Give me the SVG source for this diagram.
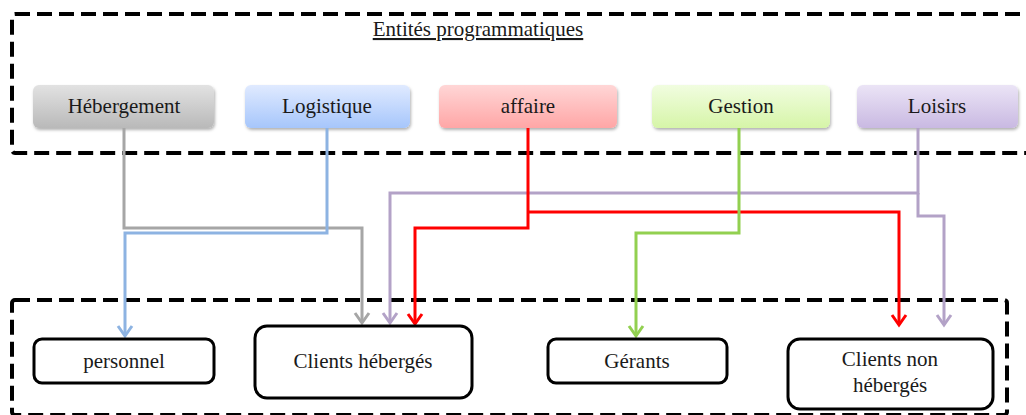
<svg xmlns="http://www.w3.org/2000/svg" width="1026" height="415" viewBox="0 0 1026 415">
<style>
.frame{fill:none;stroke:#000;stroke-width:4;stroke-dasharray:15 7}
.src{stroke:none}
.dst{fill:#fff;stroke:#000;stroke-width:3}
.t{font-family:"Liberation Serif","Times New Roman",serif;font-size:21px;fill:#1a1a1a;text-anchor:middle}
.c{fill:none;stroke-width:3;stroke-linejoin:miter}
</style>
<defs>
<linearGradient id="gGray" x1="0" y1="0" x2="0" y2="1"><stop offset="0" stop-color="#e2e2e2"/><stop offset="1" stop-color="#b9b9b9"/></linearGradient>
<linearGradient id="gBlue" x1="0" y1="0" x2="0" y2="1"><stop offset="0" stop-color="#e0eaff"/><stop offset="1" stop-color="#a6c6fb"/></linearGradient>
<linearGradient id="gRed" x1="0" y1="0" x2="0" y2="1"><stop offset="0" stop-color="#ffd6d6"/><stop offset="1" stop-color="#ffa6a6"/></linearGradient>
<linearGradient id="gGreen" x1="0" y1="0" x2="0" y2="1"><stop offset="0" stop-color="#f1fde0"/><stop offset="1" stop-color="#d6f5a8"/></linearGradient>
<linearGradient id="gPurple" x1="0" y1="0" x2="0" y2="1"><stop offset="0" stop-color="#ebe4f6"/><stop offset="1" stop-color="#c9b9e2"/></linearGradient>
<filter id="sh" x="-10%" y="-20%" width="120%" height="150%"><feDropShadow dx="1" dy="2" stdDeviation="1.5" flood-color="#000" flood-opacity="0.3"/></filter>
</defs>

<g id="frames">
<rect class="frame" x="12" y="14" width="1030" height="139" rx="3"/>
<rect class="frame" x="12" y="300" width="995" height="115" rx="3"/>
</g>

<g id="title"><text class="t" x="478" y="36" text-decoration="underline">Entités programmatiques</text></g>

<g id="hebergement"><rect class="src" x="33" y="85" width="181" height="43" rx="6" fill="url(#gGray)" filter="url(#sh)"/><text class="t" x="124" y="113">Hébergement</text></g>
<g id="logistique"><rect class="src" x="245" y="85" width="165" height="43" rx="6" fill="url(#gBlue)" filter="url(#sh)"/><text class="t" x="327" y="113">Logistique</text></g>
<g id="affaire"><rect class="src" x="439" y="85" width="178" height="43" rx="6" fill="url(#gRed)" filter="url(#sh)"/><text class="t" x="528" y="113">affaire</text></g>
<g id="gestion"><rect class="src" x="652" y="85" width="178" height="43" rx="6" fill="url(#gGreen)" filter="url(#sh)"/><text class="t" x="741" y="113">Gestion</text></g>
<g id="loisirs"><rect class="src" x="857" y="85" width="161" height="43" rx="6" fill="url(#gPurple)" filter="url(#sh)"/><text class="t" x="937" y="113">Loisirs</text></g>

<g id="connectors">
<path class="c" stroke="#a6a6a6" d="M124,128 V228 H362 V323"/>
<path class="c" stroke="#a6a6a6" d="M355,313 L362,323 L369,313"/>
<path class="c" stroke="#8db3e2" d="M327,128 V233 H125 V336"/>
<path class="c" stroke="#8db3e2" d="M118,326 L125,336 L132,326"/>
<path class="c" stroke="#b3a2c7" d="M918,128 V193 H390 V323"/>
<path class="c" stroke="#b3a2c7" d="M383,313 L390,323 L397,313"/>
<path class="c" stroke="#b3a2c7" d="M918,193 V216 H944 V325"/>
<path class="c" stroke="#b3a2c7" d="M937,315 L944,325 L951,315"/>
<path class="c" stroke="#ff0000" d="M528,128 V228 H415 V324"/>
<path class="c" stroke="#ff0000" d="M408,314 L415,324 L422,314"/>
<path class="c" stroke="#ff0000" d="M528,212 H899 V325"/>
<path class="c" stroke="#ff0000" d="M892,315 L899,325 L906,315"/>
<path class="c" stroke="#92d050" d="M739,128 V233 H636 V336"/>
<path class="c" stroke="#92d050" d="M629,326 L636,336 L643,326"/>
</g>

<g id="personnel"><rect class="dst" x="34" y="339" width="180" height="44" rx="8"/><text class="t" x="124" y="368">personnel</text></g>
<g id="clients-heberges"><rect class="dst" x="255" y="326" width="217" height="72" rx="12"/><text class="t" x="363" y="368">Clients hébergés</text></g>
<g id="gerants"><rect class="dst" x="548" y="339" width="179" height="44" rx="8"/><text class="t" x="637" y="368">Gérants</text></g>
<g id="clients-non-heberges"><rect class="dst" x="788" y="339" width="205" height="70" rx="12"/><text class="t" x="890" y="366">Clients non</text><text class="t" x="890" y="392">hébergés</text></g>
</svg>
